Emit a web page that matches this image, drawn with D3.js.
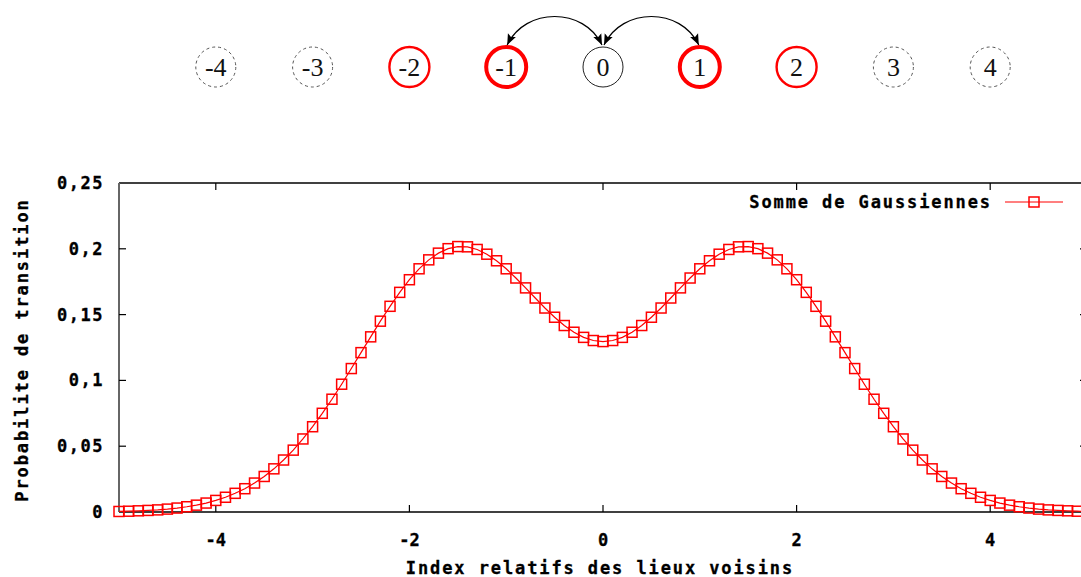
<!DOCTYPE html>
<html><head><meta charset="utf-8">
<script src="https://cdn.jsdelivr.net/npm/d3@7"></script>
<style>
html,body{margin:0;padding:0;background:#fff;}
svg{display:block;}
.mono{font-family:"DejaVu Sans Mono",monospace;font-weight:bold;font-size:17px;fill:#000;stroke:#000;stroke-width:0.3px;}
.serif{font-family:"Liberation Serif","DejaVu Serif",serif;font-size:26px;fill:#111;}
</style></head>
<body>
<svg id="chart" width="1081" height="577"></svg>
<script>
// ---- data ----
const xValues = [-5.0,-4.9,-4.8,-4.7,-4.6,-4.5,-4.4,-4.3,-4.2,-4.1,-4.0,-3.9,-3.8,-3.7,-3.6,-3.5,-3.4,-3.3,-3.2,-3.1,
  -3.0,-2.9,-2.8,-2.7,-2.6,-2.5,-2.4,-2.3,-2.2,-2.1,-2.0,-1.9,-1.8,-1.7,-1.6,-1.5,-1.4,-1.3,-1.2,-1.1,
  -1.0,-0.9,-0.8,-0.7,-0.6,-0.5,-0.4,-0.3,-0.2,-0.1,0.0,0.1,0.2,0.3,0.4,0.5,0.6,0.7,0.8,0.9,
  1.0,1.1,1.2,1.3,1.4,1.5,1.6,1.7,1.8,1.9,2.0,2.1,2.2,2.3,2.4,2.5,2.6,2.7,2.8,2.9,
  3.0,3.1,3.2,3.3,3.4,3.5,3.6,3.7,3.8,3.9,4.0,4.1,4.2,4.3,4.4,4.5,4.6,4.7,4.8,4.9,5.0];
const yValues = [0.0004,0.0006,0.0009,0.0012,0.0016,0.0022,0.0030,0.0040,0.0052,0.0068,
  0.0088,0.0112,0.0142,0.0177,0.0220,0.0270,0.0328,0.0395,0.0470,0.0555,
  0.0648,0.0750,0.0857,0.0971,0.1090,0.1211,0.1331,0.1450,0.1563,0.1669,
  0.1765,0.1848,0.1916,0.1967,0.2001,0.2017,0.2015,0.1995,0.1959,0.1909,
  0.1848,0.1778,0.1703,0.1626,0.1550,0.1480,0.1417,0.1366,0.1327,0.1303,
  0.1295,
  0.1303,0.1327,0.1366,0.1417,0.1480,0.1550,0.1626,0.1703,0.1778,0.1848,
  0.1909,0.1959,0.1995,0.2015,0.2017,0.2001,0.1967,0.1916,0.1848,0.1765,
  0.1669,0.1563,0.1450,0.1331,0.1211,0.1090,0.0971,0.0857,0.0750,0.0648,
  0.0555,0.0470,0.0395,0.0328,0.0270,0.0220,0.0177,0.0142,0.0112,0.0088,
  0.0068,0.0052,0.0040,0.0030,0.0022,0.0016,0.0012,0.0009,0.0006,0.0004];
const xTicks = [-4,-2,0,2,4];
const yTicks = [0,0.05,0.1,0.15,0.2,0.25];
const yTickLabels = ["0","0,05","0,1","0,15","0,2","0,25"];
const seriesName = "Somme de Gaussiennes";
const xTitle = "Index relatifs des lieux voisins";
const yTitle = "Probabilite de transition";
// top diagram
const nodes = [-4,-3,-2,-1,0,1,2,3,4];
const nodeKind = ["far","far","near","close","self","close","near","far","far"];
const arcs = [[-1,0],[0,1]];

// ---- layout ----
const svg = d3.select("#chart");
const L = 119, R = 1087, T = 183, B = 512;
const x = d3.scaleLinear().domain([-5,5]).range([L,R]);
const y = d3.scaleLinear().domain([0,0.25]).range([B,T]);

svg.append("defs").append("marker")
  .attr("id","arrow").attr("viewBox","0 0 10 10").attr("refX",10).attr("refY",5)
  .attr("markerWidth",11).attr("markerHeight",11).attr("markerUnits","userSpaceOnUse")
  .attr("orient","auto-start-reverse")
  .append("path").attr("d","M0,1 L10,5 L0,9 L2,5 Z").attr("fill","#000");

// ---- top diagram ----
const cy = 67, r = 20;
const styleOf = {
  far:{stroke:"#555",width:1,dash:"3,3"},
  near:{stroke:"#ff0000",width:2.4,dash:null},
  close:{stroke:"#ff0000",width:4,dash:null},
  self:{stroke:"#222",width:1,dash:null}
};
const g0 = svg.append("g");
nodes.forEach((n,i)=>{
  const s = styleOf[nodeKind[i]];
  g0.append("circle").attr("cx",x(n)).attr("cy",cy).attr("r",r)
    .attr("fill","none").attr("stroke",s.stroke).attr("stroke-width",s.width)
    .attr("stroke-dasharray",s.dash);
  g0.append("text").attr("class","serif").attr("x",x(n)).attr("y",cy+9).attr("text-anchor","middle").text(n);
});
arcs.forEach(([a,b])=>{
  const x1 = x(a)+1, x2 = x(b)-1, yTop = cy - r - 2;
  g0.append("path")
    .attr("d",`M${x1},${yTop} C${x1+18},${yTop-38} ${x2-18},${yTop-38} ${x2},${yTop}`)
    .attr("fill","none").attr("stroke","#000").attr("stroke-width",1.2)
    .attr("marker-start","url(#arrow)").attr("marker-end","url(#arrow)");
});

// ---- axes / border ----
const g = svg.append("g");
g.append("line").attr("x1",L).attr("x2",R).attr("y1",T).attr("y2",T).attr("stroke","#000").attr("stroke-width",1.5);
g.append("line").attr("x1",L).attr("x2",R).attr("y1",B).attr("y2",B).attr("stroke","#000").attr("stroke-width",1.5);
g.append("line").attr("x1",R).attr("x2",R).attr("y1",T).attr("y2",B).attr("stroke","#000").attr("stroke-width",1.5);
g.append("line").attr("x1",L).attr("x2",L).attr("y1",T).attr("y2",B).attr("stroke","#666").attr("stroke-width",2);

yTicks.forEach((t,i)=>{
  if (t>0 && t<0.25) {
    g.append("line").attr("x1",L).attr("x2",L+7).attr("y1",y(t)).attr("y2",y(t)).attr("stroke","#000").attr("stroke-width",1.2);
    g.append("line").attr("x1",R).attr("x2",R-7).attr("y1",y(t)).attr("y2",y(t)).attr("stroke","#000").attr("stroke-width",1.2);
  }
  g.append("text").attr("class","mono").attr("x",104).attr("y",y(t)+6)
    .attr("text-anchor","end").style("letter-spacing","1.5px").text(yTickLabels[i]);
});
xTicks.forEach(t=>{
  g.append("line").attr("x1",x(t)).attr("x2",x(t)).attr("y1",B).attr("y2",B-7).attr("stroke","#000").attr("stroke-width",1.2);
  g.append("line").attr("x1",x(t)).attr("x2",x(t)).attr("y1",T).attr("y2",T+7).attr("stroke","#000").attr("stroke-width",1.2);
  g.append("text").attr("class","mono").attr("x",x(t)).attr("y",B+34)
    .attr("text-anchor","middle").text(t<0?"-"+Math.abs(t):String(t));
});
g.append("text").attr("class","mono").attr("x",600).attr("y",574).attr("text-anchor","middle")
  .style("letter-spacing","1.9px").text(xTitle);
g.append("text").attr("class","mono").attr("transform","translate(28,350) rotate(-90)")
  .attr("text-anchor","middle").style("letter-spacing","1.9px").text(yTitle);

// ---- series ----
const pts = xValues.map((v,i)=>[v,yValues[i]]);
const line = d3.line().x(d=>x(d[0])).y(d=>y(d[1]));
svg.append("path").datum(pts).attr("d",line).attr("fill","none").attr("stroke","#ff0000").attr("stroke-width",1.2);
const ms = 10;
svg.append("g").selectAll("rect").data(pts).join("rect")
  .attr("x",d=>x(d[0])-ms/2).attr("y",d=>y(d[1])-ms/2).attr("width",ms).attr("height",ms)
  .attr("fill","none").attr("stroke","#ff0000").attr("stroke-width",1.5);

// ---- legend ----
const ly = 202;
svg.append("text").attr("class","mono").attr("x",992).attr("y",ly+6).attr("text-anchor","end")
  .style("letter-spacing","1.9px").text(seriesName);
svg.append("line").attr("x1",1005).attr("x2",1063).attr("y1",ly).attr("y2",ly).attr("stroke","#ff0000").attr("stroke-width",1.2);
svg.append("rect").attr("x",1034-ms/2).attr("y",ly-ms/2).attr("width",ms).attr("height",ms)
  .attr("fill","none").attr("stroke","#ff0000").attr("stroke-width",1.5);
</script>
</body></html>
